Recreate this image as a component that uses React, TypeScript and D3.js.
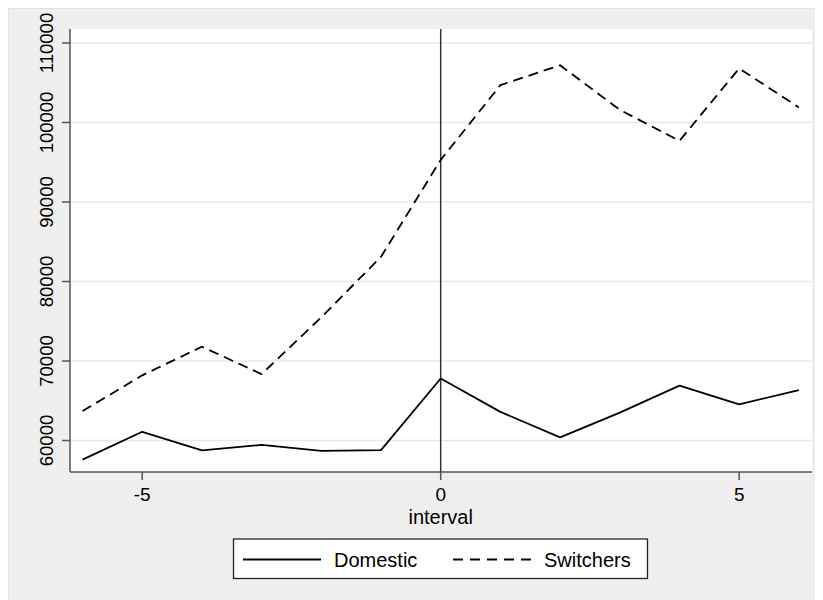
import React from "react";
import * as d3 from "d3";

const intervals = [-6, -5, -4, -3, -2, -1, 0, 1, 2, 3, 4, 5, 6];
const domestic = [57600, 61100, 58750, 59450, 58700, 58800, 67800, 63600, 60400, 63500, 66900, 64550, 66350];
const switchers = [63700, 68200, 71800, 68350, 75500, 83100, 95300, 104700, 107200, 101600, 97700, 106800, 101900];
const yTicks = [60000, 70000, 80000, 90000, 100000, 110000];
const xTicks = [-5, 0, 5];
const seriesNames = ["Domestic", "Switchers"];

const W = 823, H = 600;
const L = 70, R = 812, T = 29, B = 472;
const font = "'Liberation Sans', Arial, Helvetica, sans-serif";

export default function App() {
  const x = d3.scaleLinear().domain([-6.21, 6.22]).range([L, R]);
  const y = d3.scaleLinear().domain([56040, 111760]).range([B, T]);
  const line = d3
    .line<number>()
    .x((_, i) => x(intervals[i]))
    .y((d) => y(d));

  return (
    <svg width={W - 8} height={H - 8} style={{ display: "block" }}>
      <g transform="translate(-8,-8)">
        <rect x={8} y={8} width={W - 8} height={H - 8} fill="#efefef" />
        <line x1={8} x2={W} y1={8.5} y2={8.5} stroke="#e2e2e2" strokeWidth={1} />
        <line x1={8.5} x2={8.5} y1={8} y2={H} stroke="#e2e2e2" strokeWidth={1} />
        <rect x={L} y={T} width={R - L} height={B - T} fill="#ffffff" />
        {yTicks.map((t) => (
          <line key={"g" + t} x1={L} x2={R} y1={y(t)} y2={y(t)} stroke="#e8e8e8" strokeWidth={1.5} />
        ))}
        {/* axes */}
        <line x1={L} x2={L} y1={T} y2={B} stroke="#555" strokeWidth={1.5} />
        <line x1={L} x2={R} y1={B} y2={B} stroke="#555" strokeWidth={1.5} />
        {yTicks.map((t) => (
          <g key={"yt" + t}>
            <line x1={L - 8} x2={L} y1={y(t)} y2={y(t)} stroke="#555" strokeWidth={1.5} />
            <text
              transform={`translate(53,${y(t)}) rotate(-90)`}
              textAnchor="middle"
              fontFamily={font}
              fontSize={18.5}
              fill="#000"
            >
              {t}
            </text>
          </g>
        ))}
        {xTicks.map((t) => (
          <g key={"xt" + t}>
            <line x1={x(t)} x2={x(t)} y1={B} y2={B + 8} stroke="#555" strokeWidth={1.5} />
            <text x={x(t)} y={501} textAnchor="middle" fontFamily={font} fontSize={19} fill="#000">
              {t}
            </text>
          </g>
        ))}
        <text x={x(0)} y={523.5} textAnchor="middle" fontFamily={font} fontSize={20} fill="#000">
          interval
        </text>
        {/* reference line at 0 */}
        <line x1={x(0)} x2={x(0)} y1={T} y2={B} stroke="#333" strokeWidth={1.5} />
        <path d={line(domestic) || ""} fill="none" stroke="#000" strokeWidth={1.8} strokeLinejoin="round" />
        <path d={line(switchers) || ""} fill="none" stroke="#000" strokeWidth={1.8} strokeDasharray="10,6" strokeLinejoin="round" />
        {/* legend */}
        <rect x={233.5} y={539} width={414} height={39.5} fill="#fff" stroke="#222" strokeWidth={1.3} />
        <line x1={243} x2={321} y1={559.5} y2={559.5} stroke="#000" strokeWidth={1.8} />
        <text x={334} y={566.5} fontFamily={font} fontSize={20} fill="#000">{seriesNames[0]}</text>
        <line x1={453} x2={532} y1={559.5} y2={559.5} stroke="#000" strokeWidth={1.8} strokeDasharray="10,7" />
        <text x={544} y={566.5} fontFamily={font} fontSize={20} fill="#000">{seriesNames[1]}</text>
      </g>
    </svg>
  );
}
